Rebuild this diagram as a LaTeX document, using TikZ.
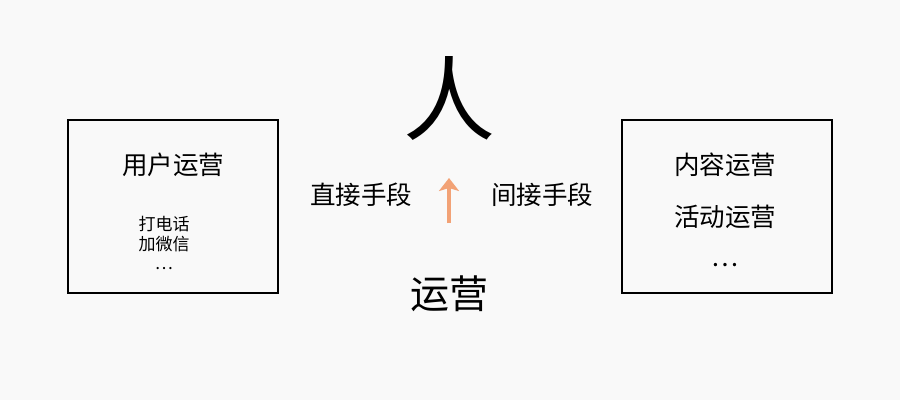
\documentclass[tikz,border=0pt]{standalone}
\usepackage{fontspec}
\setmainfont{Noto Sans CJK SC}
\usetikzlibrary{arrows.meta}
\definecolor{bg}{HTML}{F9F9F9}
\definecolor{arrowc}{HTML}{F2A276}
\begin{document}
\begin{tikzpicture}[x=1pt,y=-1pt,
  box/.style={draw=black,line width=2pt},
  big/.style={font=\fontsize{25.5}{30}\selectfont,inner sep=0pt},
  small/.style={font=\fontsize{17}{19.5}\selectfont,inner sep=0pt,align=center},
  huge/.style={font=\fontsize{39}{44}\selectfont,inner sep=0pt},
  giant/.style={font=\fontsize{92}{100}\selectfont,inner sep=0pt}]
\fill[bg] (0,0) rectangle (900,400);
\useasboundingbox (0,0) rectangle (900,400);
% boxes
\draw[box] (68,120) rectangle (278,293);
\draw[box] (622,120) rectangle (832,293);
% left box text
\node[big] (yhyy) at (173,165) {用户运营};
\node[small] (lst) at (164,243) {打电话\\加微信\\…};
% right box text
\node[big] (nryy) at (725,165) {内容运营};
\node[big] (hdyy) at (725,217) {活动运营};
\node[big] (rdots) at (725,265) {…};
% center
\node[giant] (ren) at (449.5,98) {人};
\node[big] (zj) at (361,195) {直接手段};
\node[big] (jj) at (542,195) {间接手段};
\node[huge] (yy) at (449.5,294) {运营};
\coordinate (abot) at (449,223);
\coordinate (atop) at (449,178);
\draw[arrowc,line width=3.5pt,-{Stealth[length=13pt,width=20pt,inset=3pt]}] (abot) -- (atop);
\end{tikzpicture}
\end{document}
